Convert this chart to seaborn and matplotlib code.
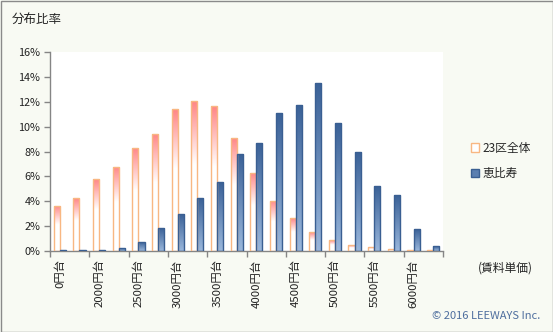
import numpy as np
import pandas as pd
import matplotlib
matplotlib.use("Agg")
import matplotlib.pyplot as plt
from matplotlib.colors import LinearSegmentedColormap
from matplotlib.patches import Patch, Rectangle
import seaborn as sns

# Rent-per-unit price bands (yen) and share of listings (%) in each band
categories = ["0円台", "1750円台", "2000円台", "2250円台", "2500円台", "2750円台",
              "3000円台", "3250円台", "3500円台", "3750円台", "4000円台", "4250円台",
              "4500円台", "4750円台", "5000円台", "5250円台", "5500円台", "5750円台",
              "6000円台", "6250円台"]
ward_total = [3.65, 4.24, 5.76, 6.77, 8.29, 9.41, 11.41, 12.05, 11.65, 9.09,
              6.30, 4.06, 2.64, 1.52, 0.88, 0.48, 0.29, 0.13, 0.08, 0.07]
ebisu = [0.08, 0.08, 0.08, 0.24, 0.72, 1.84, 2.96, 4.24, 5.52, 7.76,
         8.72, 11.12, 11.76, 13.52, 10.32, 8.00, 5.20, 4.48, 1.76, 0.40]
series_names = ["23区全体", "恵比寿"]
y_ticks = [0, 2, 4, 6, 8, 10, 12, 14, 16]

df = pd.DataFrame({
    "band": categories * 2,
    "share": ward_total + ebisu,
    "area": [series_names[0]] * len(categories) + [series_names[1]] * len(categories),
})

sns.set_theme(style="white")
plt.rcParams["font.family"] = ["Noto Sans CJK JP", "DejaVu Sans"]

W, H = 553, 332
fig = plt.figure(figsize=(W / 100, H / 100), dpi=100)
bg = "#F8FAF3"
fig.patch.set_facecolor(bg)

ax = fig.add_axes([50 / W, (H - 251) / H, (443 - 50) / W, (251 - 52) / H])
ax.set_facecolor("white")

sns.barplot(data=df, x="band", y="share", hue="area", order=categories,
            hue_order=series_names, width=0.62, gap=0, legend=False, ax=ax,
            palette=["white", "#5B7FB0"])

orange_edge = "#F8B782"
blue_edge = "#3A5F92"
cmap_orange = LinearSegmentedColormap.from_list(
    "og", [(0.0, "#FFFFFF"), (0.58, "#FFFFFF"), (1.0, "#FF8585")])
cmap_blue = LinearSegmentedColormap.from_list(
    "bg", [(0.0, "#9AB7DC"), (1.0, "#3A6197")])

# Vertical gradient fill clipped to each bar
grad = np.linspace(0, 1, 256).reshape(-1, 1)
for cont, cmap, edge in [(ax.containers[0], cmap_orange, orange_edge),
                         (ax.containers[1], cmap_blue, blue_edge)]:
    for bar in cont:
        x0 = bar.get_x()
        w = bar.get_width()
        h = bar.get_height()
        bar.set_facecolor("none")
        bar.set_edgecolor(edge)
        bar.set_linewidth(1.0)
        bar.set_zorder(3)
        if h <= 0:
            continue
        im = ax.imshow(grad, cmap=cmap, origin="lower", aspect="auto",
                       extent=(x0, x0 + w, 0, h), zorder=2,
                       interpolation="bilinear")
        im.set_clip_path(bar)

ax.set_xlim(-0.5, len(categories) - 0.5)
ax.set_ylim(0, 16)

# Axes styling
for side in ["top", "right"]:
    ax.spines[side].set_visible(False)
for side in ["left", "bottom"]:
    ax.spines[side].set_color("#858585")
    ax.spines[side].set_linewidth(1.0)

ax.set_yticks(y_ticks)
ax.set_yticklabels([f"{v}%" for v in y_ticks], fontsize=7.8, color="#222222")
ax.tick_params(axis="y", which="major", direction="out", length=4, width=1,
               color="#858585", left=True, pad=3)

label_idx = list(range(0, len(categories), 2))
ax.set_xticks(label_idx)
ax.set_xticklabels([categories[i] for i in label_idx], rotation=90,
                   fontsize=8.2, color="#222222", va="top", ha="center")
ax.set_xticks(np.arange(-0.5, len(categories), 2), minor=True)
ax.tick_params(axis="x", which="major", length=0, pad=6)
ax.tick_params(axis="x", which="minor", direction="out", length=4, width=1,
               color="#858585", bottom=True)
ax.set_xlabel("")
ax.set_ylabel("")
ax.grid(False)

# Legend
handles = [Patch(facecolor="white", edgecolor=orange_edge, linewidth=1.0),
           Patch(facecolor="#5B7FB0", edgecolor=blue_edge, linewidth=1.0)]
fig.legend(handles, series_names, loc="center left",
           bbox_to_anchor=(466 / W, 1 - 161 / H), frameon=False,
           fontsize=8.5, handlelength=0.7, handleheight=0.7, handletextpad=0.3,
           labelspacing=1.1, borderaxespad=0)

# Captions
fig.text(12 / W, 1 - 19 / H, "分布比率", fontsize=9, color="#222222",
         va="center", ha="left")
fig.text(505 / W, 1 - 268 / H, "(賃料単価)", fontsize=8.5, color="#222222",
         va="center", ha="center")
fig.text(540 / W, 1 - 316 / H, "© 2016 LEEWAYS Inc.", fontsize=8,
         color="#4E6E9E", va="center", ha="right")

# Outer frame
fig.patches.append(Rectangle((0.5 / W, 0.5 / H), (W - 1) / W, (H - 1) / H,
                             transform=fig.transFigure, fill=False,
                             edgecolor="#8A8A8A", linewidth=1.0))

fig.savefig("out.png", dpi=100, facecolor=bg)
